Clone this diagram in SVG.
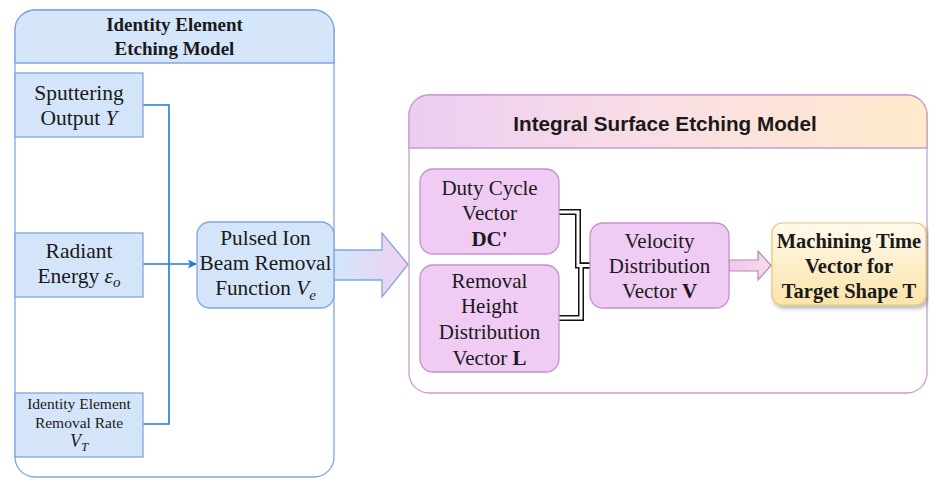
<svg xmlns="http://www.w3.org/2000/svg" width="929" height="478" viewBox="0 0 929 478">
  <defs>
    <style>
      .serif { font-family: "Liberation Serif", "Times New Roman", serif; fill: #1a1a1a; }
      .sans { font-family: "Liberation Sans", Arial, sans-serif; fill: #1a1a1a; }
      .blueBox { fill: #d5e5f9; stroke: #7ea6e0; stroke-width: 1.3; }
      .pinkBox { fill: #f0cbf4; stroke: #c592cc; stroke-width: 1.3; }
      .wire { fill: none; stroke: #1f7bd8; stroke-width: 1.6; }
      .linkOuter { fill: none; stroke: #111; stroke-width: 6; }
      .linkInner { fill: none; stroke: #fff; stroke-width: 3; }
    </style>
    <linearGradient id="gradHeaderR" x1="0" y1="0" x2="1" y2="0">
      <stop offset="0" stop-color="#eccdf3"/>
      <stop offset="0.5" stop-color="#f9dfe3"/>
      <stop offset="1" stop-color="#ffeacb"/>
    </linearGradient>
    <linearGradient id="gradBigArrow" x1="0" y1="0" x2="1" y2="0">
      <stop offset="0" stop-color="#d2e6fb"/>
      <stop offset="1" stop-color="#f0d0f1"/>
    </linearGradient>
    <linearGradient id="gradSmallArrow" x1="0" y1="0" x2="1" y2="0">
      <stop offset="0" stop-color="#eec8f0"/>
      <stop offset="1" stop-color="#f8dbe6"/>
    </linearGradient>
    <linearGradient id="gradResult" x1="0" y1="0" x2="0" y2="1">
      <stop offset="0" stop-color="#fffaeb"/>
      <stop offset="1" stop-color="#fbe3aa"/>
    </linearGradient>
    <filter id="shadow" x="-10%" y="-10%" width="125%" height="135%">
      <feDropShadow dx="2" dy="3" stdDeviation="2" flood-color="#000" flood-opacity="0.28"/>
    </filter>
    <marker id="arrowBlue" viewBox="0 0 10 10" refX="9" refY="5" markerWidth="9" markerHeight="9" markerUnits="userSpaceOnUse" orient="auto">
      <path d="M0,0 L10,5 L0,10 L2.5,5 Z" fill="#1f7bd8"/>
    </marker>
  </defs>

  <rect width="929" height="478" fill="#ffffff"/>

  <!-- Left swimlane: identity element etching model -->
  <g id="identity-model">
    <path d="M15,457 V30 A20,20 0 0 1 35,10 H314 A20,20 0 0 1 334,30 V457 A20,20 0 0 1 314,477 H35 A20,20 0 0 1 15,457 Z" fill="#ffffff" stroke="#7ea6e0" stroke-width="1.3"/>
    <path d="M15,63 V30 A20,20 0 0 1 35,10 H314 A20,20 0 0 1 334,30 V63 Z" fill="#d6e6fa" stroke="#7ea6e0" stroke-width="1.3"/>
    <text class="serif" x="174.5" y="31" font-size="19" font-weight="bold" text-anchor="middle">Identity Element</text>
    <text class="serif" x="174.5" y="55" font-size="19" font-weight="bold" text-anchor="middle">Etching Model</text>
  </g>

  <!-- Right swimlane: integral surface etching model -->
  <g id="integral-model">
    <path d="M409,115 A20,20 0 0 1 429,95 H907 A20,20 0 0 1 927,115 V373 A20,20 0 0 1 907,393 H429 A20,20 0 0 1 409,373 Z" fill="#ffffff" stroke="#c99dd2" stroke-width="1.3"/>
    <path d="M409,148 V115 A20,20 0 0 1 429,95 H907 A20,20 0 0 1 927,115 V148 Z" fill="url(#gradHeaderR)" stroke="#c99dd2" stroke-width="1.3"/>
    <text class="sans" x="665" y="131" font-size="20.7" font-weight="bold" text-anchor="middle">Integral Surface Etching Model</text>
  </g>

  <!-- Connectors -->
  <g id="connectors">
    <path class="wire" d="M143,105 H169 V424 H143"/>
    <path class="wire" d="M143,264 H196" marker-end="url(#arrowBlue)"/>
    <!-- wide block arrow from removal function into the integral model -->
    <path d="M334,250 H382 V233 L408,264.5 L382,297 V280 H334 Z" fill="url(#gradBigArrow)" stroke="#7ea6e0" stroke-width="1.3"/>
    <!-- double-line links into the velocity vector -->
    <path class="linkOuter" d="M558,212 H578 V265.5 H590"/>
    <path class="linkOuter" d="M558,318 H581 V265.5 H590"/>
    <path class="linkInner" d="M558,212 H578 V265.5 H590"/>
    <path class="linkInner" d="M558,318 H581 V265.5 H590"/>
    <!-- block arrow from velocity to machining time -->
    <path d="M729,260 H758 V251 L771,265.5 L758,280 V271 H729 Z" fill="url(#gradSmallArrow)" stroke="#b883bd" stroke-width="1.2"/>
  </g>

  <g id="sputtering-output">
    <rect class="blueBox" x="15" y="73" width="128" height="64"/>
    <text class="serif" x="79" y="100" font-size="21.5" text-anchor="middle">Sputtering</text>
    <text class="serif" x="79" y="125" font-size="21.5" text-anchor="middle">Output <tspan font-style="italic">Y</tspan></text>
  </g>

  <g id="radiant-energy">
    <rect class="blueBox" x="15" y="233" width="128" height="64"/>
    <text class="serif" x="79" y="258" font-size="21.5" text-anchor="middle">Radiant</text>
    <text class="serif" x="79" y="283" font-size="21.5" text-anchor="middle">Energy <tspan font-style="italic">ε</tspan><tspan font-style="italic" font-size="15" dy="4">o</tspan></text>
  </g>

  <g id="removal-rate">
    <rect class="blueBox" x="15" y="393" width="128" height="64"/>
    <text class="serif" x="79" y="409" font-size="15.5" text-anchor="middle">Identity Element</text>
    <text class="serif" x="79" y="428" font-size="15.5" text-anchor="middle">Removal Rate</text>
    <text class="serif" x="79" y="447" font-size="18" text-anchor="middle"><tspan font-style="italic">V</tspan><tspan font-style="italic" font-size="13" dy="4">T</tspan></text>
  </g>

  <g id="removal-function">
    <rect class="blueBox" x="197" y="222" width="137" height="86" rx="13"/>
    <text class="serif" x="265.5" y="245" font-size="21.3" text-anchor="middle">Pulsed Ion</text>
    <text class="serif" x="265.5" y="270" font-size="21.3" text-anchor="middle">Beam Removal</text>
    <text class="serif" x="265.5" y="295" font-size="21.3" text-anchor="middle">Function <tspan font-style="italic">V</tspan><tspan font-style="italic" font-size="15" dy="5">e</tspan></text>
  </g>

  <g id="duty-cycle">
    <rect class="pinkBox" x="420" y="169" width="139" height="85" rx="13"/>
    <text class="serif" x="489.5" y="195" font-size="21" text-anchor="middle">Duty Cycle</text>
    <text class="serif" x="489.5" y="220" font-size="21" text-anchor="middle">Vector</text>
    <text class="serif" x="489.5" y="246" font-size="21" font-weight="bold" text-anchor="middle">DC'</text>
  </g>

  <g id="removal-height">
    <rect class="pinkBox" x="420" y="265" width="139" height="107" rx="13"/>
    <text class="serif" x="489.5" y="288" font-size="21" text-anchor="middle">Removal</text>
    <text class="serif" x="489.5" y="313" font-size="21" text-anchor="middle">Height</text>
    <text class="serif" x="489.5" y="339" font-size="21" text-anchor="middle">Distribution</text>
    <text class="serif" x="489.5" y="365" font-size="21" text-anchor="middle">Vector <tspan font-weight="bold">L</tspan></text>
  </g>

  <g id="velocity-distribution">
    <rect class="pinkBox" x="590" y="223" width="139" height="85" rx="13"/>
    <text class="serif" x="659.5" y="248" font-size="21" text-anchor="middle">Velocity</text>
    <text class="serif" x="659.5" y="273" font-size="21" text-anchor="middle">Distribution</text>
    <text class="serif" x="659.5" y="298" font-size="21" text-anchor="middle">Vector <tspan font-weight="bold">V</tspan></text>
  </g>

  <g id="machining-time">
    <rect x="772" y="223" width="154" height="82" rx="10" fill="url(#gradResult)" stroke="#e3c77a" stroke-width="1.2" filter="url(#shadow)"/>
    <text class="serif" x="849" y="248" font-size="20.5" font-weight="bold" text-anchor="middle">Machining Time</text>
    <text class="serif" x="849" y="273" font-size="20.5" font-weight="bold" text-anchor="middle">Vector for</text>
    <text class="serif" x="849" y="298" font-size="20.5" font-weight="bold" text-anchor="middle">Target Shape T</text>
  </g>
</svg>
